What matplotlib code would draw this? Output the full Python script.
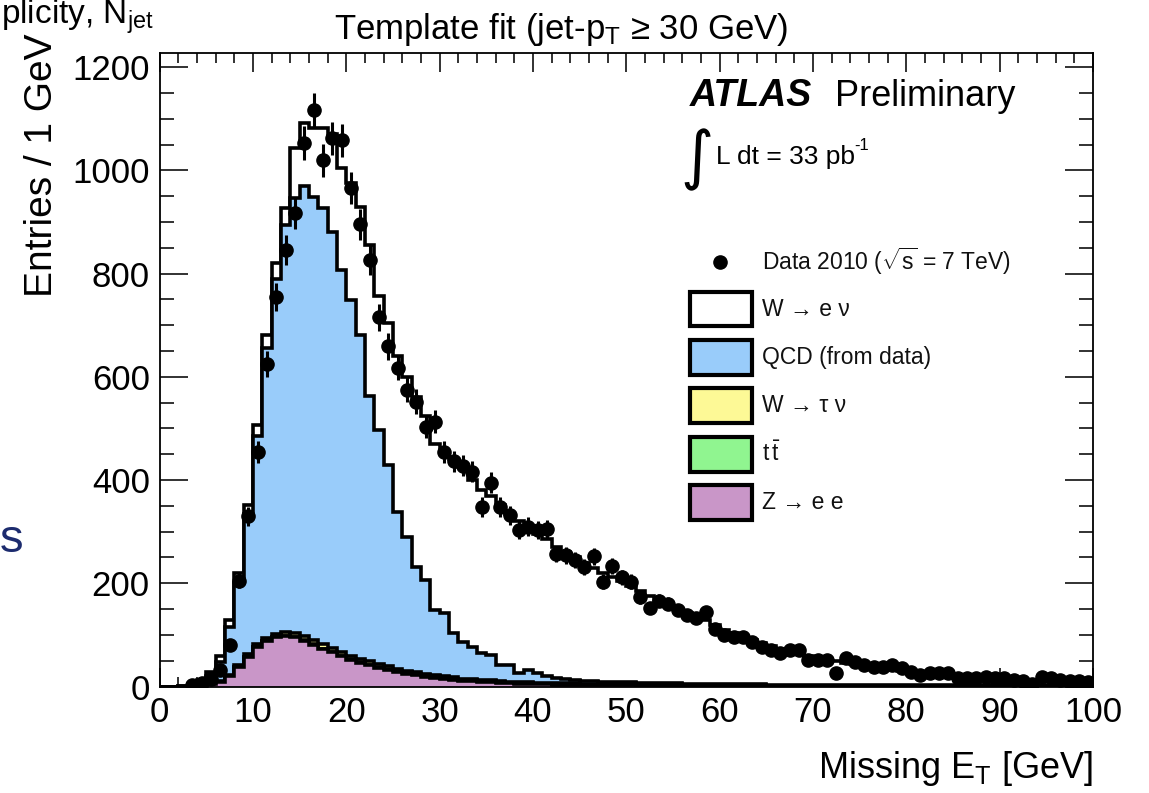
import numpy as np
import matplotlib
matplotlib.use("Agg")
import matplotlib.pyplot as plt
from matplotlib.patches import Rectangle
from matplotlib.lines import Line2D
from matplotlib.ticker import MultipleLocator

plt.rcParams['font.family'] = ['Liberation Sans', 'DejaVu Sans']
plt.rcParams['mathtext.fontset'] = 'custom'
plt.rcParams['mathtext.rm'] = 'Liberation Sans'
plt.rcParams['mathtext.it'] = 'Liberation Sans:italic'
plt.rcParams['mathtext.bf'] = 'Liberation Sans:bold'

# ---------------- data (1 GeV bins, 0..100 GeV) ----------------
bin_edges = np.arange(0, 101, 1)

data_counts = [0, 0, 0, 3, 7, 15, 32, 80, 205, 330,
               455, 625, 755, 845, 917, 1053, 1117, 1020, 1062, 1058,
               965, 896, 827, 715, 659, 618, 575, 552, 503, 513,
               455, 436, 428, 416, 348, 395, 348, 332, 303, 310,
               303, 305, 257, 254, 245, 231, 252, 203, 233, 212,
               203, 173, 152, 166, 160, 148, 139, 132, 144, 112,
               100, 96, 96, 87, 76, 71, 64, 70, 71, 51,
               51, 51, 26, 55, 48, 42, 38, 38, 42, 35,
               29, 22, 26, 26, 26, 16, 16, 16, 19, 16,
               16, 12, 10, 4, 19, 16, 12, 10, 10, 8]

z_ee = [0, 0, 0, 1, 2, 4, 9, 20, 38, 58,
        76, 88, 95, 97, 95, 89, 81, 73, 66, 59,
        52, 46, 41, 36, 32, 28, 25, 22, 19, 17,
        15, 13, 11, 10, 9, 8, 7, 6, 5, 5,
        4, 4, 3, 3, 3, 2, 2, 2, 2, 2,
        2, 1, 1, 1, 1, 1, 1, 1, 1, 1,
        1, 1, 1, 1, 1, 0.5, 0.5, 0.5, 0.5, 0.5,
        0.5, 0.5, 0.5, 0.5, 0.5, 0.5, 0.5, 0.5, 0.5, 0.5,
        0, 0, 0, 0, 0, 0, 0, 0, 0, 0,
        0, 0, 0, 0, 0, 0, 0, 0, 0, 0]

ttbar = [0, 0, 0, 0, 0, 0, 0, 0, 0, 0,
         0, 0, 0.5, 0.5, 0.5, 0.5, 0.5, 0.5, 0.5, 0.5,
         1, 1, 1, 1, 1, 1, 1, 1, 1, 1,
         1, 1, 1, 1, 1, 1, 1, 1, 1, 1,
         1, 1, 1, 1, 1, 1, 1, 1, 1, 1,
         1, 1, 1, 1, 1, 1, 1, 1, 1, 1,
         0.5, 0.5, 0.5, 0.5, 0.5, 0.5, 0.5, 0.5, 0.5, 0.5,
         0.5, 0.5, 0.5, 0.5, 0.5, 0.5, 0.5, 0.5, 0.5, 0.5,
         0.5, 0.5, 0.5, 0.5, 0.5, 0.5, 0.5, 0.5, 0.5, 0.5,
         0.5, 0.5, 0.5, 0.5, 0.5, 0.5, 0.5, 0.5, 0.5, 0.5]

w_taunu = [0, 0, 0, 0, 0.5, 1, 1.5, 2.5, 3.5, 4.5,
           5.5, 6.5, 7, 7.5, 8, 8, 8, 8, 7.5, 7.5,
           7, 7, 6.5, 6.5, 6, 5.5, 5, 5, 4.5, 4.5,
           4, 4, 3.5, 3.5, 3, 3, 3, 2.5, 2.5, 2.5,
           2, 2, 2, 2, 2, 1.5, 1.5, 1.5, 1.5, 1.5,
           1, 1, 1, 1, 1, 1, 1, 1, 1, 1,
           0.5, 0.5, 0.5, 0.5, 0.5, 0.5, 0.5, 0.5, 0.5, 0.5,
           0.5, 0.5, 0.5, 0.5, 0.5, 0.5, 0.5, 0.5, 0.5, 0.5,
           0.5, 0.5, 0.5, 0.5, 0.5, 0.5, 0.5, 0.5, 0.5, 0.5,
           0.5, 0.5, 0.5, 0.5, 0.5, 0.5, 0.5, 0.5, 0.5, 0.5]

qcd = [0, 0, 1, 3, 6.5, 15, 37.5, 92.5, 158.5, 272.5,
       403.5, 560.5, 687.5, 790, 842.5, 871.5, 859.5, 845.5, 807, 740,
       689, 627, 513.5, 453.5, 390, 304.5, 259, 204, 181.5, 125.5,
       122, 85, 71.5, 62.5, 51, 49, 31, 32.5, 17.5, 23.5,
       19, 13, 10, 8, 6, 6.5, 5.5, 4.5, 4.5, 3.5,
       4, 4, 4, 3, 3, 3, 2, 2, 2, 2,
       2, 2, 2, 2, 2, 1.5, 1.5, 1.5, 1.5, 1.5,
       1.5, 1.5, 1.5, 1.5, 0.5, 0.5, 0.5, 0.5, 0.5, 0.5,
       1, 1, 1, 1, 1, 1, 1, 1, 1, 1,
       0.5, 0.5, 0.5, 0.5, 0.5, 0.5, 0.5, 0.5, 0.5, 0.5]

w_enu = [0, 0, 0, 1, 3, 8, 12, 14, 19, 17,
         22, 26, 30, 32, 97, 122, 133, 155, 189, 197,
         226, 249, 294, 260, 275, 301, 310, 328, 319, 322,
         313, 337, 338, 323, 316, 309, 310, 293, 294, 273,
         269, 265, 254, 246, 238, 229, 220, 211, 203, 197,
         187, 178, 168, 162, 154, 144, 137, 130, 123, 115,
         106, 99, 93, 86, 80, 75, 70, 66, 62, 57,
         53, 49, 46, 43, 41, 38, 35, 33, 31, 29,
         27, 25, 23, 21, 19, 18, 16, 15, 14, 13,
         12.5, 11.5, 10.5, 9.5, 8.5, 8.5, 7.5, 6.5, 6.5, 5.5]

# stack order bottom -> top
stack_names = ["Z \u2192 e e", r"$\mathrm{t\,\bar{t}}$", "W \u2192 \u03c4 \u03bd",
               "QCD (from data)", "W \u2192 e \u03bd"]
stack_values = [z_ee, ttbar, w_taunu, qcd, w_enu]
stack_colors = ["#c996c8", "#90f590", "#fdf996", "#99ccfa", "#ffffff"]

# ---------------- figure ----------------
W, H = 1149, 793
fig = plt.figure(figsize=(W / 100, H / 100), dpi=100)

def fx(px):
    return px / W

def fy(py):
    return 1 - py / H

ax = fig.add_axes([fx(159.5), fy(686.5), fx(1093) - fx(159.5), fy(52.7) - fy(686.5)])

cum = np.cumsum(np.array(stack_values, dtype=float), axis=0)
for i in range(len(stack_values) - 1, -1, -1):
    ax.stairs(cum[i], bin_edges, baseline=0, fill=True,
              facecolor=stack_colors[i], edgecolor="black", linewidth=2.6,
              zorder=2 + (len(stack_values) - i) * 0.1)

dc = np.array(data_counts, dtype=float)
centers = 0.5 * (bin_edges[:-1] + bin_edges[1:])
mask = dc > 0
ax.errorbar(centers[mask], dc[mask], yerr=np.sqrt(dc[mask]), fmt='o', color='black',
            ms=9.5, elinewidth=2.2, capsize=0, zorder=5)

ax.set_xlim(0, 100)
ax.set_ylim(0, 1228)
ax.xaxis.set_major_locator(MultipleLocator(10))
ax.xaxis.set_minor_locator(MultipleLocator(2))
ax.yaxis.set_major_locator(MultipleLocator(200))
ax.yaxis.set_minor_locator(MultipleLocator(50))
ax.tick_params(which='both', direction='in', top=True, right=True, color='#222222')
ax.tick_params(axis='x', which='major', length=14, width=1.3, labelsize=25, pad=7)
ax.tick_params(axis='x', which='minor', length=7, width=1.3)
ax.tick_params(axis='y', which='major', length=20, width=1.3, labelsize=25, pad=7)
ax.tick_params(axis='y', which='minor', length=10, width=1.3)
for s in ax.spines.values():
    s.set_linewidth(1.3)
    s.set_zorder(6)

# ---------------- texts ----------------
fig.text(fx(1), fy(24), r"plicity, N$_{\mathrm{jet}}$", ha='left', va='baseline',
         fontsize=24)
fig.text(fx(0), fy(540), "s", ha='left', va='center', fontsize=34, color='#1c2b6e')
fig.text(fx(561), fy(30), "Template fit (jet-p$_{\\mathrm{T}}$ \u2265 30 GeV)", ha='center',
         va='center', fontsize=25)
fig.text(fx(42), fy(165), "Entries / 1 GeV", rotation=90, ha='center', va='center', fontsize=28)
fig.text(fx(1093), fy(768), "Missing E$_{\\mathrm{T}}$ [GeV]", ha='right', va='center', fontsize=26)

fig.text(fx(690), fy(96), "ATLAS", fontsize=27, fontweight='bold', fontstyle='italic',
         ha='left', va='center')
fig.text(fx(835), fy(96), "Preliminary", fontsize=26, ha='left', va='center')
fig.text(fx(680), fy(160), "\u222b", fontsize=46, family=['DejaVu Sans'], ha='left', va='center')
fig.text(fx(716), fy(157), "L dt = 33 pb", fontsize=19, ha='left', va='center')
fig.text(fx(854), fy(145), "-1", fontsize=12, ha='left', va='center')

# ---------------- legend ----------------
fig.add_artist(Line2D([fx(720)], [fy(261.7)], marker='o', ms=9.5, color='black',
                      transform=fig.transFigure))
fig.text(fx(762), fy(261.7), r"Data 2010 ($\sqrt{\mathrm{s}}$ = 7 TeV)", fontsize=16.5,
         ha='left', va='center', color='#111111')
row_y = [309, 357.5, 405.8, 454, 502.5]
legend_order = [4, 3, 2, 1, 0]
for yy, idx in zip(row_y, legend_order):
    fig.add_artist(Rectangle((fx(690), fy(yy + 17.5)), fx(752) - fx(690), fy(yy - 17.5) - fy(yy + 17.5),
                             facecolor=stack_colors[idx], edgecolor='black', linewidth=3,
                             transform=fig.transFigure))
    fig.text(fx(762), fy(yy), stack_names[idx], fontsize=16.5, ha='left', va='center',
             color='#111111')

fig.savefig("out.png", dpi=100)
